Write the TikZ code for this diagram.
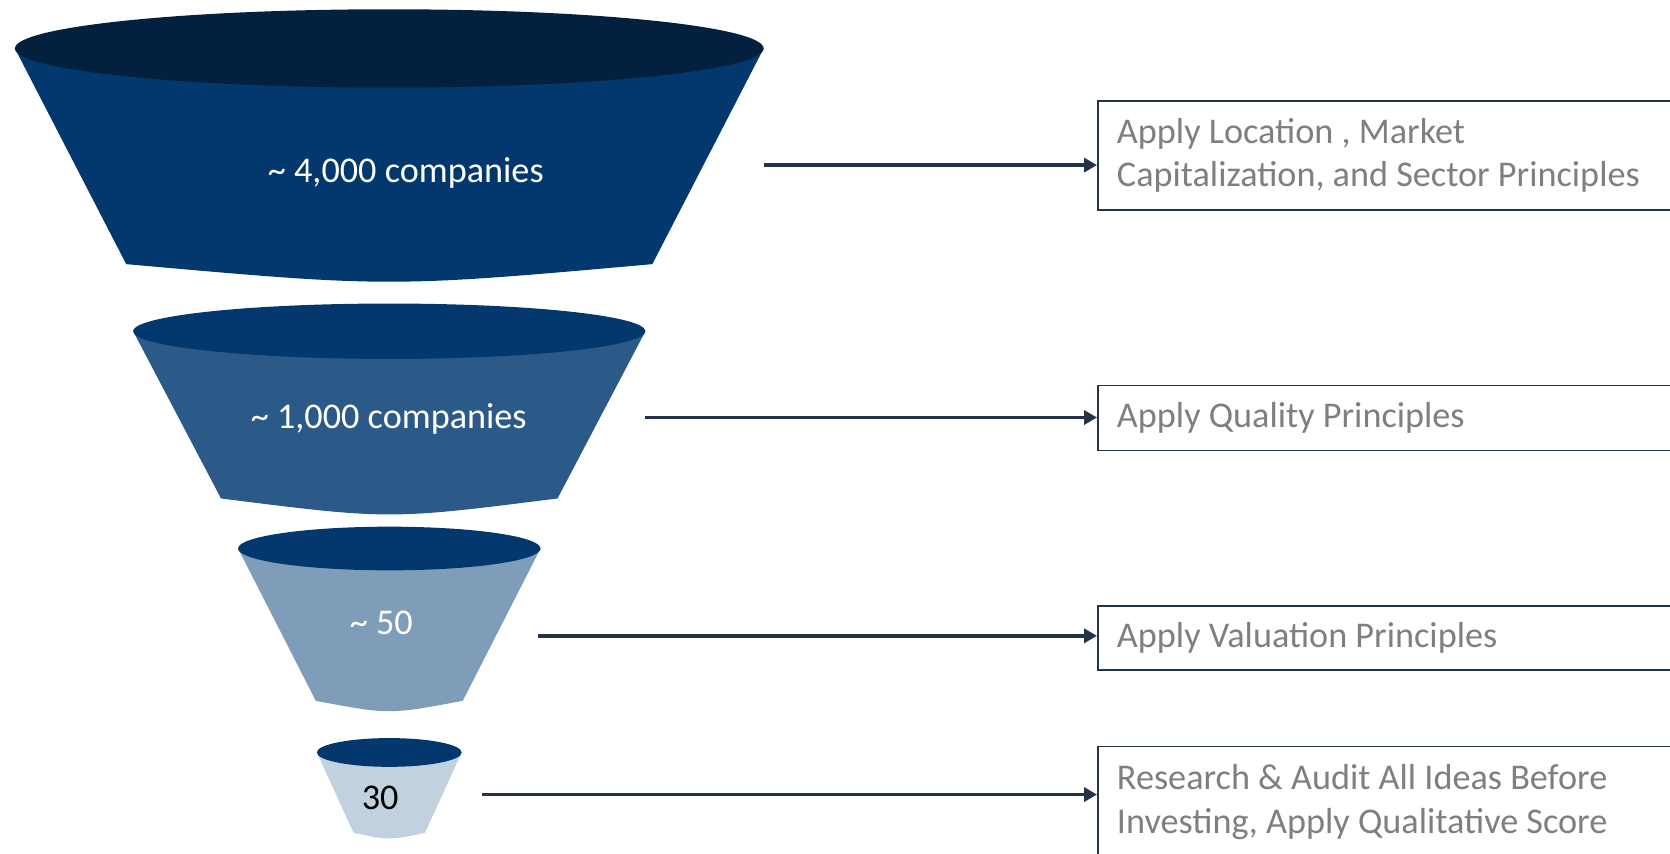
\documentclass[tikz,border=0pt]{standalone}
\usepackage{fontspec}
\setmainfont{Carlito}
\usetikzlibrary{arrows.meta}

\definecolor{navydark}{HTML}{03213F}
\definecolor{navy}{HTML}{03386E}
\definecolor{tierb}{HTML}{2C5A88}
\definecolor{tierc}{HTML}{7F9DB9}
\definecolor{tierd}{HTML}{C2D1E0}
\definecolor{slate}{HTML}{243447}
\definecolor{note}{HTML}{7F7F7F}

% natural word spacing of the font inside the ragged step boxes
\newcommand\natspace{\spaceskip=0pt\relax\xspaceskip=0pt\relax}

\tikzset{
  tiertext/.style={font=\fontsize{34}{41}\selectfont, text=white, inner sep=0pt},
  notebox/.style={draw=slate, line width=1.5pt, anchor=west, text width=560pt,
    align=left, inner xsep=18pt, inner ysep=0pt, text=note,
    font=\fontsize{34}{41}\selectfont},
  link/.style={draw=slate, line width=3.2pt,
    -{Triangle[length=12pt,width=13pt]}},
}

% one tier of the funnel: body, then the rim ellipse on top
% #1 cx, #2 cy, #3 rx, #4 ry, #5 bottom half-width, #6 bottom y, #7 control y, #8 body colour, #9 rim colour
\newcommand\funneltier[9]{%
  \fill[#8] (#1-#3,#2) -- (#1-#5,#6) .. controls (#1,#7) .. (#1+#5,#6) -- (#1+#3,#2) -- cycle;
  \fill[#9] (#1,#2) ellipse [x radius=#3, y radius=#4];
}

\begin{document}
\begin{tikzpicture}[x=1pt,y=-1pt]
  \useasboundingbox (0,0) rectangle (1568,801);
  \clip (0,0) rectangle (1568,801);

  % funnel tiers
  \funneltier{365.5}{45.5}{351.5}{36.8}{247}{248}{270}{navy}{navydark}
  \funneltier{365.5}{311}{240.5}{26}{158}{468}{488}{tierb}{navy}
  \funneltier{365.5}{515}{142}{20.5}{69}{658}{671}{tierc}{navy}
  \funneltier{365.5}{706.5}{68}{13.5}{33.5}{782}{789}{tierd}{navy}

  % tier counts
  \node[tiertext] (t1) at (381,162) {\textasciitilde\ 4,000 companies};
  \node[tiertext] (t2) at (365,393) {\textasciitilde\ 1,000 companies};
  \node[tiertext] (t3) at (358,585) {\textasciitilde\ 50};
  \node[tiertext, text=black] (t4) at (357,749) {30};

  % screening steps
  \node[notebox, minimum height=102pt] (b1) at (1030,146)
    {\natspace Apply Location , Market\\\natspace Capitalization, and Sector Principles};
  \node[notebox, minimum height=61pt] (b2) at (1030,392.5)
    {\natspace Apply Quality Principles};
  \node[notebox, minimum height=60pt] (b3) at (1030,599)
    {\natspace Apply Valuation Principles};
  \node[notebox, minimum height=104pt] (b4) at (1030,753)
    {\natspace Research \& Audit All Ideas Before\\\natspace Investing, Apply Qualitative Score};

  % arrows from the funnel rims to the steps
  \coordinate (s1) at (717,155);
  \coordinate (s2) at (606,392);
  \coordinate (s3) at (505,597);
  \coordinate (s4) at (453,746);
  \draw[link] (s1) -- (b1.west |- s1);
  \draw[link] (s2) -- (b2.west |- s2);
  \draw[link] (s3) -- (b3.west |- s3);
  \draw[link] (s4) -- (b4.west |- s4);
\end{tikzpicture}
\end{document}
